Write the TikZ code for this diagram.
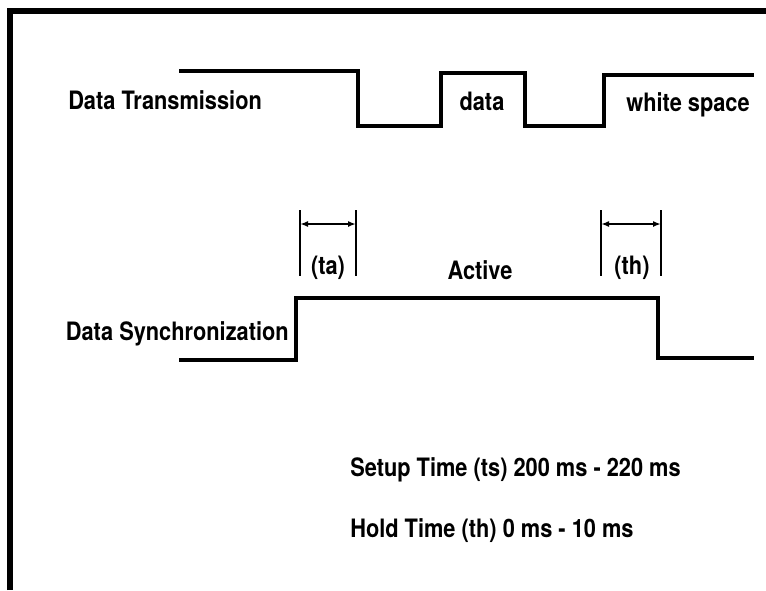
\documentclass[tikz,border=0pt]{standalone}
\usepackage{fontspec}
\setmainfont{TeX Gyre Heros}[FakeStretch=0.86]
\usetikzlibrary{arrows.meta}
\tikzset{
  wave/.style={line width=3.3pt, line join=miter, line cap=butt},
  frameline/.style={line width=3.8pt},
  bar/.style={line width=1.9pt},
  dim/.style={line width=1.5pt, {Latex[length=6pt,width=4.5pt]}-{Latex[length=6pt,width=4.5pt]}},
  lbl/.style={font=\fontsize{19}{22}\selectfont\bfseries, inner sep=0pt}
}
\begin{document}
\begin{tikzpicture}[x=0.75pt,y=-0.75pt]
\useasboundingbox (0,0) rectangle (766,590);
% frame
\draw[frameline] (10,590) -- (10,11) -- (766,11);
% Data Transmission waveform
\draw[wave] (179,71) -- (358,71) -- (358,126) -- (441,126) -- (441,73) -- (525,73)
  -- (525,126) -- (604,126) -- (604,75) -- (754,75);
% Data Synchronization waveform
\draw[wave] (179,360) -- (296,360) -- (296,298) -- (658,298) -- (658,358) -- (754,358);
% labels
\node[lbl, anchor=base west] (dt) at (68,109) {Data Transmission};
\node[lbl, anchor=base] (data) at (482,110) {data};
\node[lbl, anchor=base] (ws) at (688,111) {white space};
\node[lbl, anchor=base east] (ds) at (289,340) {Data Synchronization};
\node[lbl, anchor=base] (ta) at (328,274) {(ta)};
\node[lbl, anchor=base] (act) at (480,279) {Active};
\node[lbl, anchor=base] (th) at (632,274) {(th)};
\node[lbl, anchor=base west] (setup) at (350,476) {Setup Time (ts) 200 ms - 220 ms};
\node[lbl, anchor=base west] (hold) at (350,537) {Hold Time (th) 0 ms - 10 ms};
% dimension bars
\coordinate (a1t) at (300,210); \coordinate (a1b) at (300,276);
\coordinate (a2t) at (356,210); \coordinate (a2b) at (356,276);
\coordinate (b1t) at (601,210); \coordinate (b1b) at (601,276);
\coordinate (b2t) at (661,210); \coordinate (b2b) at (661,276);
\draw[bar] (a1t) -- (a1b);
\draw[bar] (a2t) -- (a2b);
\draw[bar] (b1t) -- (b1b);
\draw[bar] (b2t) -- (b2b);
\coordinate (a1m) at (300,224); \coordinate (a2m) at (356,224);
\coordinate (b1m) at (601,224); \coordinate (b2m) at (661,224);
\draw[dim] (a1m) -- (a2m);
\draw[dim] (b1m) -- (b2m);
\end{tikzpicture}
\end{document}
